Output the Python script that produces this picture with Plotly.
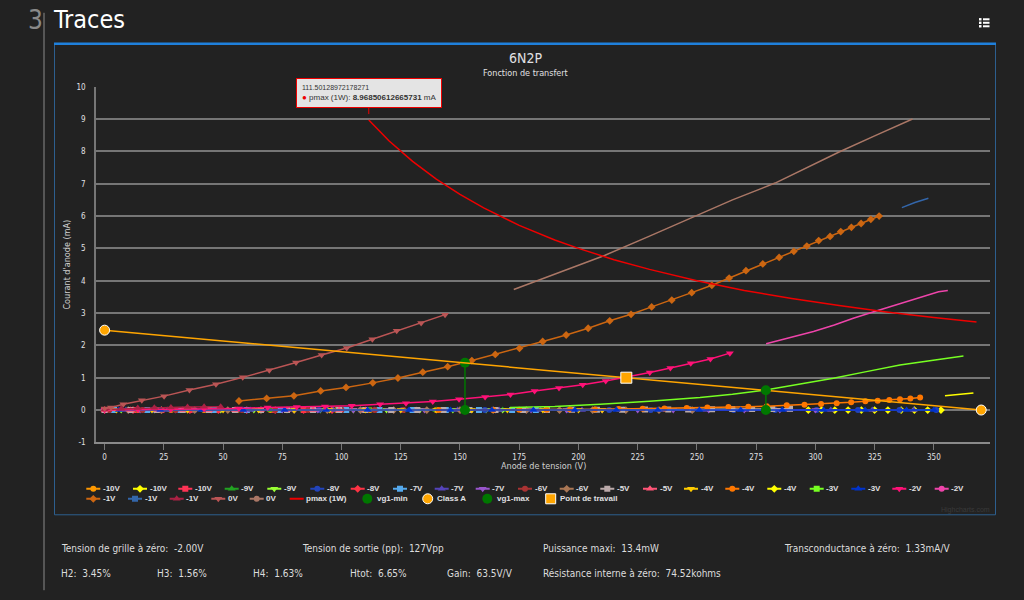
import plotly.graph_objects as go

W, H = 1024, 600
# the captured page is drawn slightly squeezed vertically; map reference pixels to layout pixels
Y_OFF, Y_SCALE = 3.2, 0.986


def PX(x):
    return x / W


def PY(y):
    return 1 - ((y - Y_OFF) / Y_SCALE) / H


# ---------------- data ----------------
x_ticks = [0, 25, 50, 75, 100, 125, 150, 175, 200, 225, 250, 275, 300, 325, 350]
y_ticks = [-1, 0, 1, 2, 3, 4, 5, 6, 7, 8, 9, 10]
y_tick_labels = ["-1", "0", "1", "2", "3", "4", "5", "6", "7", "8", "9", "10"]

v_m10_orange = [0, 14, 28, 42, 56, 70, 84, 98, 112, 126, 140]
i_m10_orange = [0, 0, 0, 0, 0, 0, 0, 0, 0, 0, 0]
v_m10_yellow = [297, 302.6, 308.2, 313.8, 319.4, 325, 330.6, 336.2, 341.8, 347.4, 353]
i_m10_yellow = [0, 0, 0, 0, 0, 0, 0, 0, 0, 0, 0]
v_m10_red = [0, 12, 24, 36, 48, 60, 72, 84]
i_m10_red = [0, 0, 0, 0, 0, 0, 0, 0]
v_m9_green = [0, 14, 28, 42, 56, 70, 84, 98, 112, 126, 140, 154, 168, 182, 196]
i_m9_green = [0, 0, 0, 0, 0, 0, 0, 0, 0, 0, 0, 0, 0, 0, 0]
v_m9_lime = [7, 21, 35, 49, 63, 77, 91, 105, 119, 133, 147, 161, 168]
i_m9_lime = [0, 0, 0, 0, 0, 0, 0, 0, 0, 0, 0, 0, 0]
v_m8_blue = [3, 20.5, 38, 55.5, 73, 90.5, 108, 125.5, 143, 160.5, 178, 195.5, 213, 230.5,
             248, 265.5, 283, 300.5, 318, 335.5, 351]
i_m8_blue = [0, 0, 0, 0, 0, 0, 0, 0, 0, 0, 0, 0, 0, 0, 0, 0, 0, 0, 0, 0, 0]
v_m8_red = [0, 12, 24, 36, 48, 60, 72, 84, 96]
i_m8_red = [0, 0, 0, 0, 0, 0, 0, 0, 0]
v_m7_sky = [4, 18, 32, 46, 60, 74, 88, 102, 116, 130, 144, 158, 172, 182]
i_m7_sky = [0, 0, 0, 0, 0, 0, 0, 0, 0, 0, 0, 0, 0, 0]
v_m7_purple = [9, 26.5, 44, 61.5, 79, 96.5, 114, 131.5, 149, 166.5, 184, 201.5, 219, 236.5,
               254, 271.5, 289, 306.5, 324, 341.5]
i_m7_purple = [0, 0, 0, 0, 0, 0, 0, 0, 0, 0, 0, 0, 0, 0, 0, 0, 0, 0, 0, 0]
v_m7_violet = [0, 15, 30, 45, 60, 75, 90, 105, 120, 135, 150, 165, 180, 195, 210, 225, 240,
               255, 270, 285, 300]
i_m7_violet = [0, 0, 0, 0, 0, 0, 0, 0, 0, 0, 0, 0, 0, 0, 0, 0, 0, 0, 0, 0, 0]
v_m6_dred = [2, 16, 30, 44, 58, 72, 86, 100, 114, 126]
i_m6_dred = [0, 0, 0, 0, 0, 0, 0, 0, 0, 0]
v_m6_brown = [10, 24, 38, 52, 66, 80, 94, 108, 122, 136, 150, 164, 178, 192, 206, 220, 234,
              248]
i_m6_brown = [0, 0, 0, 0, 0, 0, 0, 0, 0, 0, 0, 0, 0, 0, 0, 0, 0, 0]
v_m5_grey = [0, 11, 22, 33, 44, 55, 66, 77, 88, 99, 110, 121, 132, 143, 154, 165, 176.6,
             186.7, 197.3, 207.8, 218.4, 228.1, 237.9, 246.3, 256.4, 264.9, 273.3, 281.8, 289.3]
i_m5_grey = [0, 0, 0, 0, 0, 0, 0, 0, 0, 0, 0, 0, 0, 0, 0, 0, 0, 0, 0.005, 0.01, 0.01, 0.015,
             0.02, 0.02, 0.025, 0.03, 0.03, 0.035, 0.04]
v_m5_pink = [0, 11, 22, 33, 44, 55, 66, 77, 88, 99, 110]
i_m5_pink = [0, 0, 0, 0, 0, 0, 0, 0, 0, 0, 0]
v_m4_gold = [5, 20, 35, 50, 65, 80, 95, 110, 125, 140, 155, 170, 185, 200, 210]
i_m4_gold = [0, 0, 0, 0, 0, 0, 0, 0, 0, 0, 0, 0, 0, 0, 0]
v_m4_orange = [141, 152, 164, 175, 186.6, 196.4, 207, 216.9, 227.1, 236.3, 245.7, 254.4,
               263.3, 271.7, 279.5, 287.9, 295.4, 302.4, 309.0, 315.1, 321.1, 326.3, 331.2,
               335.7, 340.1, 344.2]
i_m4_orange = [0, 0, 0, 0.005, 0.01, 0.015, 0.02, 0.03, 0.04, 0.05, 0.06, 0.08, 0.09, 0.10,
               0.12, 0.145, 0.165, 0.185, 0.21, 0.24, 0.27, 0.29, 0.31, 0.33, 0.36, 0.39]
v_m4_yellow = [354.7, 358, 361, 364, 366.7]
i_m4_yellow = [0.44, 0.46, 0.48, 0.50, 0.53]
v_m3_green = [171.1, 190, 209.2, 230, 251.3, 265, 279, 293, 307.6, 321, 335.7, 349, 362.5]
i_m3_green = [0.08, 0.11, 0.18, 0.27, 0.39, 0.49, 0.62, 0.79, 0.98, 1.18, 1.39, 1.53, 1.67]
v_m3_blue = [6, 23.5, 41, 58.5, 76, 93.5, 111, 128.5, 146, 163.5, 181, 198.5, 216, 233.5, 251,
             268.5, 286, 303.5, 321, 338.5, 350]
i_m3_blue = [0, 0, 0, 0, 0, 0, 0, 0, 0, 0, 0, 0, 0, 0, 0, 0, 0, 0, 0, 0, 0]
v_m2_rose = [0, 14, 28, 42, 56.7, 68.8, 81.1, 93.0, 104.3, 116.3, 127.2, 138.5, 149.6, 160.6,
             171.3, 181.5, 191.8, 201.8, 211.5, 220.9, 230.1, 238.8, 247.4, 255.7, 263.9]
i_m2_rose = [0, 0.01, 0.02, 0.03, 0.05, 0.08, 0.09, 0.11, 0.13, 0.18, 0.21, 0.26, 0.33, 0.40,
             0.48, 0.59, 0.68, 0.78, 0.90, 1.02, 1.16, 1.30, 1.45, 1.58, 1.76]
v_m2_pink = [279.2, 290, 299.2, 308, 316, 325, 334.4, 341, 347.7, 352, 355.9]
i_m2_pink = [2.05, 2.25, 2.43, 2.63, 2.84, 3.05, 3.26, 3.42, 3.58, 3.66, 3.70]
v_m1_orange = [56.7, 68.4, 79.9, 91.2, 101.9, 113.2, 123.8, 134.3, 144.8, 155.0, 164.9, 175.1,
               184.9, 194.8, 204.1, 213.2, 222.2, 230.9, 239.4, 247.8, 256.3, 263.6, 270.7,
               277.8, 284.7, 290.9, 296.4, 301.4, 306.2, 310.7, 315.2, 319.3, 323.4, 326.9]
i_m1_orange = [0.28, 0.36, 0.44, 0.59, 0.70, 0.84, 0.99, 1.17, 1.34, 1.53, 1.72, 1.91, 2.12,
               2.32, 2.53, 2.76, 2.96, 3.19, 3.40, 3.63, 3.86, 4.08, 4.31, 4.52, 4.72, 4.91,
               5.07, 5.24, 5.37, 5.52, 5.65, 5.77, 5.90, 6.00]
v_m1_steel = [336.5, 342, 347.7]
i_m1_steel = [6.26, 6.42, 6.55]
v_m1_maroon = [0, 7, 14, 21, 28, 35, 42, 49]
i_m1_maroon = [0.02, 0.04, 0.06, 0.07, 0.08, 0.09, 0.10, 0.10]
v_0_redbrown = [0, 2.7, 7.9, 15.7, 25.1, 35.8, 47.0, 58.3, 69.5, 80.8, 91.6, 102.2, 113.0,
                123.3, 133.6, 143.7]
i_0_redbrown = [0.05, 0.08, 0.18, 0.30, 0.43, 0.62, 0.80, 1.01, 1.23, 1.47, 1.70, 1.92, 2.19,
                2.45, 2.69, 2.95]
v_0_tan = [172.7, 190, 211, 230, 250, 265, 283, 294, 310, 325, 341]
i_0_tan = [3.73, 4.20, 4.78, 5.38, 6.02, 6.50, 7.02, 7.41, 7.98, 8.48, 9.00]

v_pmax = [111.5, 120, 130, 140, 150, 160, 175, 190, 200, 215, 230, 250, 270, 290, 310, 330,
          350, 368]
i_pmax = [8.97, 8.33, 7.69, 7.14, 6.67, 6.25, 5.71, 5.26, 5.00, 4.65, 4.35, 4.00, 3.70, 3.45,
          3.23, 3.03, 2.86, 2.72]
v_vg1min = [152.1, 152.1]
i_vg1min = [1.46, 0]
v_classA = [0, 370]
i_classA = [2.47, 0]
v_vg1max = [279.1, 279.1]
i_vg1max = [0.61, 0]
v_work = [220.2]
i_work = [1.0]

tooltip_x = "111.50128972178271"
tooltip_y = "8.96850612665731"

stats_row1 = ["Tension de grille à zéro:  -2.00V", "Tension de sortie (pp):  127Vpp",
              "Puissance maxi:  13.4mW", "Transconductance à zéro:  1.33mA/V"]
stats_row2 = ["H2:  3.45%", "H3:  1.56%", "H4:  1.63%", "Htot:  6.65%", "Gain:  63.5V/V",
              "Résistance interne à zéro:  74.52kohms"]

# (name, x, y, colour, symbol, show markers)
series = [
    ("-10V", v_m10_orange, i_m10_orange, "#ff9900", "circle", True),
    ("-10V", v_m10_yellow, i_m10_yellow, "#ffff00", "diamond", True),
    ("-10V", v_m10_red, i_m10_red, "#ff3355", "square", True),
    ("-9V", v_m9_green, i_m9_green, "#22a322", "triangle-up", True),
    ("-9V", v_m9_lime, i_m9_lime, "#99ff33", "triangle-down", True),
    ("-8V", v_m8_blue, i_m8_blue, "#2244bb", "circle", True),
    ("-8V", v_m8_red, i_m8_red, "#ff3344", "diamond", True),
    ("-7V", v_m7_sky, i_m7_sky, "#55aaee", "square", True),
    ("-7V", v_m7_purple, i_m7_purple, "#5544bb", "triangle-up", True),
    ("-7V", v_m7_violet, i_m7_violet, "#9955cc", "triangle-down", True),
    ("-6V", v_m6_dred, i_m6_dred, "#aa3333", "circle", True),
    ("-6V", v_m6_brown, i_m6_brown, "#aa7755", "diamond", True),
    ("-5V", v_m5_grey, i_m5_grey, "#bbaaaa", "square", True),
    ("-5V", v_m5_pink, i_m5_pink, "#ff5577", "triangle-up", True),
    ("-4V", v_m4_gold, i_m4_gold, "#ffcc00", "triangle-down", True),
    ("-4V", v_m4_orange, i_m4_orange, "#ff7700", "circle", True),
    ("-4V", v_m4_yellow, i_m4_yellow, "#ffff00", "diamond", False),
    ("-3V", v_m3_green, i_m3_green, "#77ff22", "square", False),
    ("-3V", v_m3_blue, i_m3_blue, "#0033cc", "triangle-up", True),
    ("-2V", v_m2_rose, i_m2_rose, "#ff1177", "triangle-down", True),
    ("-2V", v_m2_pink, i_m2_pink, "#ee44aa", "circle", False),
    ("-1V", v_m1_orange, i_m1_orange, "#cc6611", "diamond", True),
    ("-1V", v_m1_steel, i_m1_steel, "#3366aa", "square", False),
    ("-1V", v_m1_maroon, i_m1_maroon, "#aa2244", "triangle-up", True),
    ("0V", v_0_redbrown, i_0_redbrown, "#bb5555", "triangle-down", True),
    ("0V", v_0_tan, i_0_tan, "#aa7766", "circle", False),
]

# ---------------- styles / layout constants ----------------
BG = "#222222"
GRID = "#767676"
TXT = "#e0e0e3"
NARROW = "Liberation Sans Narrow, DejaVu Sans Condensed, Arial Narrow, sans-serif"
SANS = "Liberation Sans, Arial, sans-serif"

fig = go.Figure()

for name, xs, ys, col, sym, mk in series:
    size = 7 if sym.startswith("triangle") else 6
    fig.add_trace(go.Scatter(
        x=xs, y=ys, name=name, mode="lines+markers" if mk else "lines",
        line=dict(color=col, width=1.5),
        marker=dict(symbol=sym, size=size, color=col),
    ))

fig.add_trace(go.Scatter(x=v_pmax, y=i_pmax, name="pmax (1W)", mode="lines",
                         line=dict(color="#ee0000", width=1.5)))
fig.add_trace(go.Scatter(x=v_vg1min, y=i_vg1min, name="vg1-min", mode="lines+markers",
                         line=dict(color="#007700", width=1.5),
                         marker=dict(symbol="circle", size=10, color="#007700")))
fig.add_trace(go.Scatter(x=v_classA, y=i_classA, name="Class A", mode="lines+markers",
                         line=dict(color="#ffa500", width=1.5),
                         marker=dict(symbol="circle", size=10, color="#ffa500",
                                     line=dict(color="#ffffff", width=1))))
fig.add_trace(go.Scatter(x=v_vg1max, y=i_vg1max, name="vg1-max", mode="lines+markers",
                         line=dict(color="#007700", width=1.5),
                         marker=dict(symbol="circle", size=10, color="#007700")))
fig.add_trace(go.Scatter(x=v_work, y=i_work, name="Point de travail", mode="markers",
                         marker=dict(symbol="square", size=11, color="#ffa500",
                                     line=dict(color="#ffffff", width=1))))

# ---------------- custom legend (Highcharts style rows) ----------------
legend_items = [(s[0], s[3], s[4], "normal") for s in series]
legend_items += [("pmax (1W)", "#ee0000", None, "line"),
                 ("vg1-min", "#007700", "circle", "big"),
                 ("Class A", "#ffa500", "circle", "bigw"),
                 ("vg1-max", "#007700", "circle", "big"),
                 ("Point de travail", "#ffa500", "square", "bigw")]
LEG_X_ROW1 = [93.3, 140, 185.3, 231.7, 274.3, 317.3, 357.7, 400, 441.7, 482.7, 525, 566.7,
              607.3, 650, 691, 732.3, 774.3, 816.7, 858.3, 899.3, 941.7]
LEG_X_ROW2 = [93.3, 135, 176.7, 218.3, 256.7, 296.7, 367.3, 427.7, 487.3, 550.7]
positions = [(x, 488.5) for x in LEG_X_ROW1] + [(x, 498.5) for x in LEG_X_ROW2]

annotations = []
for (name, col, sym, kind), (cx, cy) in zip(legend_items, positions):
    if kind in ("normal", "line"):
        fig.add_trace(go.Scatter(x=[cx - 7, cx + 7], y=[cy, cy], mode="lines",
                                 line=dict(color=col, width=2), xaxis="x2", yaxis="y2",
                                 hoverinfo="skip", showlegend=False))
    if sym is not None:
        if kind == "normal":
            m = dict(symbol=sym, size=7 if sym.startswith("triangle") else 6, color=col)
        elif kind == "big":
            m = dict(symbol=sym, size=10, color=col)
        else:
            m = dict(symbol=sym, size=10, color=col, line=dict(color="#ffffff", width=1))
        fig.add_trace(go.Scatter(x=[cx], y=[cy], mode="markers", marker=m, xaxis="x2",
                                 yaxis="y2", hoverinfo="skip", showlegend=False))
    annotations.append(dict(x=cx + 7.5, y=cy, xref="x2", yref="y2", text=f"<b>{name}</b>",
                            showarrow=False, xanchor="left", yanchor="middle",
                            font=dict(family=SANS, size=8, color=TXT)))


def paper_text(x, y, text, size, color, family=NARROW, xanchor="left", angle=0):
    return dict(x=PX(x), y=PY(y), xref="paper", yref="paper", text=text, showarrow=False,
                xanchor=xanchor, yanchor="middle", textangle=angle,
                font=dict(family=family, size=size, color=color))


# ---------------- texts ----------------
annotations += [
    paper_text(26, 19, "3", 26, "#8a8a8a"),
    paper_text(51, 19, "Traces", 25, "#ffffff"),
    paper_text(525, 57, "6N2P", 14, TXT, xanchor="center"),
    paper_text(525, 72, "Fonction de transfert", 9, TXT, xanchor="center"),
    paper_text(67, 264, "Courant d'anode (mA)", 9, "#d0d0d0", xanchor="center", angle=-90),
    paper_text(543, 466, "Anode de tension (V)", 9, "#d0d0d0", xanchor="center"),
    paper_text(992, 510, "Highcharts.com", 7, "#3a3a3a", family=SANS, xanchor="right"),
    dict(x=float(tooltip_x), y=float(tooltip_y), xref="x", yref="y",
         text=(f"<span style='font-size:7px'>{tooltip_x}</span><br>"
               f"<span style='color:#ee0000'>●</span> pmax (1W): <b>{tooltip_y}</b> mA"),
         showarrow=True, ax=0, ay=-27.5, standoff=6, arrowcolor="#ee0000", arrowwidth=1,
         arrowhead=0, bgcolor="#e4e4e4", bordercolor="#ee0000", borderwidth=1, borderpad=5,
         align="left", font=dict(family=SANS, size=8, color="#333333")),
]
for txt, x in zip(stats_row1, [59, 300, 541, 782]):
    annotations.append(paper_text(x, 548, txt, 10, "#dddddd"))
for txt, x in zip(stats_row2, [59, 155, 251, 348, 445, 541]):
    annotations.append(paper_text(x, 573, txt, 10, "#dddddd"))

# ---------------- decorative shapes ----------------
shapes = [
    dict(type="line", xref="paper", yref="paper", x0=PX(44), x1=PX(44), y0=PY(12), y1=PY(590),
         line=dict(color="#8a8a8a", width=1)),
    dict(type="rect", xref="paper", yref="paper", x0=PX(54.5), x1=PX(995.5), y0=PY(43),
         y1=PY(514.5), line=dict(color="#2d5f8f", width=1)),
    dict(type="line", xref="paper", yref="paper", x0=PX(54), x1=PX(996), y0=PY(43), y1=PY(43),
         line=dict(color="#1f80dc", width=2.5)),
]
for yy in (18.5, 22, 25.5):
    shapes.append(dict(type="rect", xref="paper", yref="paper", x0=PX(979), x1=PX(981.5),
                       y0=PY(yy - 1.2), y1=PY(yy + 1.2), fillcolor="#ffffff", line=dict(width=0)))
    shapes.append(dict(type="line", xref="paper", yref="paper", x0=PX(983), x1=PX(989.5),
                       y0=PY(yy), y1=PY(yy), line=dict(color="#ffffff", width=2)))

fig.update_layout(
    width=W, height=H, margin=dict(l=0, r=0, t=0, b=0),
    paper_bgcolor=BG, plot_bgcolor=BG, showlegend=False,
    annotations=annotations, shapes=shapes,
    xaxis=dict(domain=[PX(96), PX(990)], range=[-3.63, 373.7], tickvals=x_ticks,
               showgrid=False, zeroline=False, showline=True, linecolor="#8a8a8a",
               linewidth=2, ticks="outside", ticklen=6, tickcolor=GRID, tickwidth=1,
               tickfont=dict(family=NARROW, size=8, color=TXT), anchor="y"),
    yaxis=dict(domain=[PY(442), PY(86)], range=[-1, 10], tickvals=y_ticks,
               ticktext=y_tick_labels,
               showgrid=True, gridcolor=GRID, gridwidth=1.5, zeroline=False,
               showline=True, linecolor=GRID, linewidth=1.5, ticks="outside", ticklen=7,
               tickcolor="rgba(0,0,0,0)", tickfont=dict(family=NARROW, size=8, color=TXT),
               anchor="x"),
    xaxis2=dict(domain=[0, 1], range=[0, W], visible=False, anchor="y2", fixedrange=True),
    yaxis2=dict(domain=[PY(505), PY(482)], range=[505, 482], visible=False, anchor="x2",
                fixedrange=True),
)

POST = (
    "document.documentElement.style.margin='0';"
    "document.documentElement.style.overflow='hidden';"
    "document.body.style.margin='0';"
    "document.body.style.overflow='hidden';"
    "document.body.style.background='#222222';"
    "var d=document.getElementById('{plot_id}');"
    "d.style.position='fixed';d.style.left='0px';d.style.top='0px';"
)

fig.write_html("out.html", config={"displayModeBar": False}, post_script=POST)
